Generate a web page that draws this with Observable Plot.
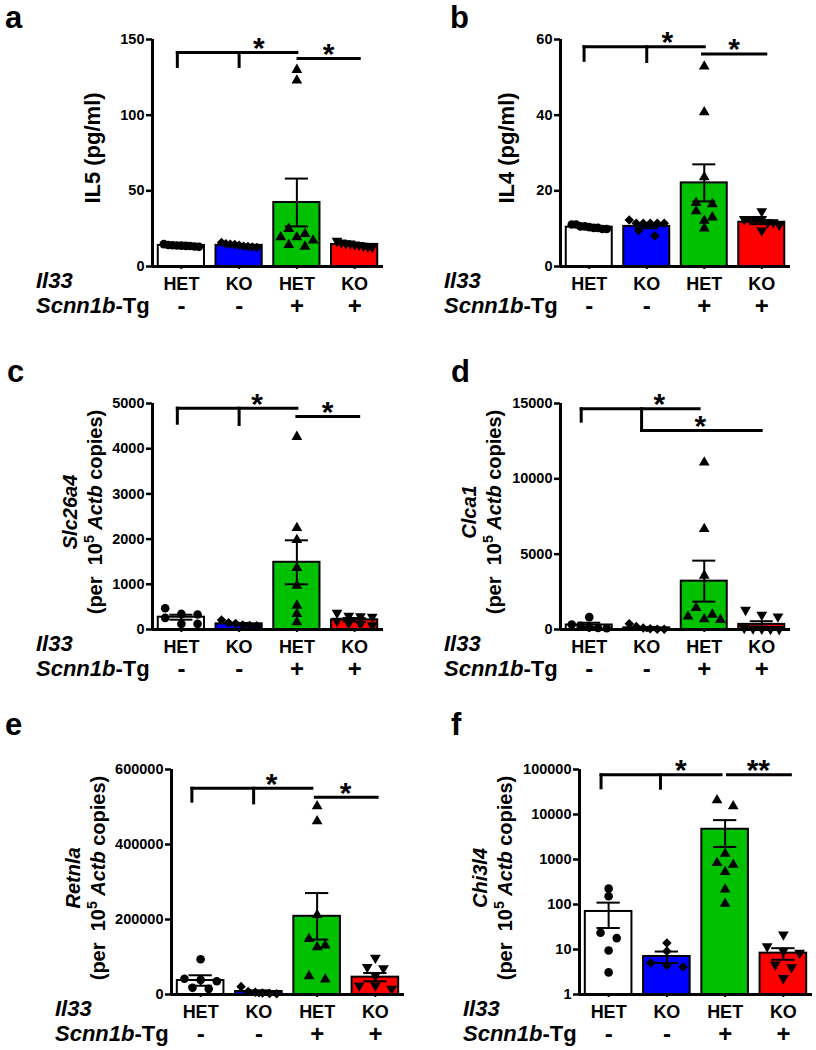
<!DOCTYPE html>
<html><head><meta charset="utf-8">
<script src="https://cdn.jsdelivr.net/npm/d3@7"></script>
<script src="https://cdn.jsdelivr.net/npm/@observablehq/plot@0.6"></script>
<style>
html,body{margin:0;padding:0;background:#fff;}
#fig{position:relative;width:816px;height:1050px;overflow:hidden;background:#fff;}
#fig svg{position:absolute;overflow:visible;}
</style></head><body><div id="fig"></div>
<script>
// ---------- shared categories ----------
const il33Labels = ["HET", "KO", "HET", "KO"];
const tgLabels = ["-", "-", "+", "+"];
const groupColors = ["#ffffff", "#0000ff", "#00c000", "#ff0000"];

// ---------- a: IL5 (pg/ml) ----------
const il5Het   = [13.5, 13.8, 14.0, 13.6, 14.2, 14.8, 13.9, 13.2, 13.0];
const il5Ko    = [12.6, 13.4, 14.1, 15.0, 15.8, 14.6, 13.2, 14.7, 12.9];
const il5HetTg = [130, 123, 24.9, 21.6, 19.4, 19.4, 17.2, 14.3, 13.2];
const il5KoTg  = [14.2, 15.1, 15.8, 16.9, 14.5, 13.6, 15.3, 13.0, 12.8];
const il5Means = [13.9, 14.0, 42.3, 14.6];
const il5Sems  = [0.3, 0.4, 15.8, 0.5];
const il5Ticks = [0, 50, 100, 150];
const il5Segs  = [[-0.07,141.4,2.0,141.4],[-0.07,141.4,-0.07,132.2],[1.0,141.4,1.0,132.2],[2.02,137.4,3.08,137.4]];
const il5Stars = [[1.34,141.4,"*"],[2.55,137.4,"*"]];

// ---------- b: IL4 (pg/ml) ----------
const il4Het   = [10.6, 10.2, 9.9, 10.4, 11.1, 11.1, 10.6, 10.2, 9.9];
const il4Ko    = [11.4, 11.4, 11.4, 11.4, 11.4, 12.3, 9.5, 8.1];
const il4HetTg = [52.9, 40.8, 23.6, 16.8, 16.5, 14.6, 13.0, 12.1, 10.1];
const il4KoTg  = [14.6, 12.5, 12.5, 12.5, 12.5, 11.7, 11.7, 11.0, 9.5];
const il4Means = [10.4, 10.6, 22.1, 11.7];
const il4Sems  = [0.2, 0.5, 4.9, 0.5];
const il4Ticks = [0, 20, 40, 60];
const il4Segs  = [[-0.09,58.1,2.0,58.1],[-0.09,58.1,-0.09,54.5],[1.0,58.1,1.0,54.2],[1.97,56.2,3.07,56.2]];
const il4Stars = [[1.36,58.1,"*"],[2.52,56.2,"*"]];

// ---------- c: Slc26a4 ----------
const slcHet   = [471, 346, 331, 258, 125, 125];
const slcKo    = [210, 150, 130, 100, 90, 80];
const slcHetTg = [4264, 2246, 1980, 1362, 972, 530, 346, 162];
const slcKoTg  = [370, 300, 290, 280, 190, 140, 90, 120];
const slcMeans = [272, 125, 1487, 214];
const slcSems  = [55, 20, 486, 40];
const slcTicks = [0, 1000, 2000, 3000, 4000, 5000];
const slcSegs  = [[-0.07,4896,2.0,4896],[-0.07,4896,-0.07,4564],[1.0,4896,1.0,4535],[2.0,4712,3.07,4712]];
const slcStars = [[1.31,4896,"*"],[2.53,4712,"*"]];

// ---------- d: Clca1 ----------
const clcHet   = [820, 330, 250, 150, 100, 80];
const clcKo    = [380, 200, 100, 50, 20, 10];
const clcHetTg = [11089, 6671, 3579, 1436, 994, 862, 685, 641];
const clcKoTg  = [1300, 970, 860, 100, 60, 40, 30, 20];
const clcMeans = [300, 110, 3210, 340];
const clcSems  = [150, 60, 1360, 210];
const clcTicks = [0, 5000, 10000, 15000];
const clcSegs  = [[-0.14,14646,1.91,14646],[-0.14,14646,-0.14,13827],[0.91,14646,0.91,13208],[0.91,13208,2.99,13208]];
const clcStars = [[1.22,14646,"*"],[1.93,13208,"*"]];

// ---------- e: Retnla ----------
const retHet   = [94000, 42000, 39000, 35500, 17800, 15100];
const retKo    = [21000, 8000, 6000, 4000, 3000, 2000];
const retHetTg = [502000, 462000, 212000, 148000, 131000, 126000, 49000, 40000];
const retKoTg  = [98000, 73000, 70000, 50700, 24000, 24000, 15100];
const retMeans = [37300, 8000, 208500, 46200];
const retSems  = [14000, 3000, 62000, 11000];
const retTicks = [0, 200000, 400000, 600000];
const retSegs  = [[-0.15,550000,1.91,550000],[-0.15,550000,-0.15,515500],[0.91,550000,0.91,511000],[1.97,526000,3.03,526000]];
const retStars = [[1.22,550000,"*"],[2.49,526000,"*"]];

// ---------- f: Chi3l4 (log) ----------
const chiHet   = [225, 152, 23.6, 17.9, 9.5, 3.1];
const chiKo    = [13.9, 9.2, 5.0, 4.4, 4.1];
const chiHetTg = [20800, 15300, 1350, 840, 770, 530, 217, 104];
const chiKoTg  = [21.5, 11.7, 9.2, 8.4, 4.6, 4.0, 2.3];
const chiMeans = [70, 7.0, 4700, 8.3];
const chiSems  = [40, 2.0, 2800, 2.4];
const chiTicks = [1, 10, 100, 1000, 10000, 100000];
const chiSegs  = [[-0.13,76250,1.93,76250],[-0.13,76250,-0.13,39200],[0.89,76250,0.89,38430],[2.04,76250,3.12,76250]];
const chiStars = [[1.24,76250,"*"],[2.57,76250,"**"]];

// ---------- drawing ----------
const FONT = "'Liberation Sans', Arial, Helvetica, sans-serif";
const invTriangle = {
  draw(context, size) {
    const y = -Math.sqrt(size / (Math.sqrt(3) * 3));
    context.moveTo(0, -y * 2);
    context.lineTo(-Math.sqrt(3) * y, y);
    context.lineTo(Math.sqrt(3) * y, y);
    context.closePath();
  }
};
const groupSymbols = ["circle", "diamond2", "triangle", invTriangle];
const groupR = [4.3, 4.3, 4.0, 4.0];

function dodge(pys, diam, maxHalf) {
  const order = pys.map((p, i) => i).sort((a, b) => pys[a] - pys[b]);
  const rows = [];
  let cur = null;
  for (const i of order) {
    if (cur && pys[i] - pys[cur[0]] < diam * 0.8) cur.push(i);
    else { cur = [i]; rows.push(cur); }
  }
  const off = new Array(pys.length).fill(0);
  for (const r of rows) {
    const n = r.length;
    if (n < 2) continue;
    const sp = Math.min(diam * 1.8, (2 * maxHalf) / (n - 1));
    r.forEach((i, k) => off[i] = (k - (n - 1) / 2) * sp);
  }
  return off;
}

const W = 408;
const panels = [
  {letter:"a", left:0, top:0, height:330, mt:39, mb:64, ml:152, mr:25, type:"linear", domain:[0,150], ticks:il5Ticks,
   groups:[il5Het, il5Ko, il5HetTg, il5KoTg], means:il5Means, sems:il5Sems, segs:il5Segs, stars:il5Stars,
   label:{single:"IL5 (pg/ml)", cx:92, cy:148}, lp:[5,28]},
  {letter:"b", left:408, top:0, height:330, mt:39, mb:64, ml:152, mr:26, type:"linear", domain:[0,60], ticks:il4Ticks,
   groups:[il4Het, il4Ko, il4HetTg, il4KoTg], means:il4Means, sems:il4Sems, segs:il4Segs, stars:il4Stars,
   label:{single:"IL4 (pg/ml)", cx:98, cy:148}, lp:[42,28]},
  {letter:"c", left:0, top:330, height:350, mt:73, mb:51, ml:152, mr:25, type:"linear", domain:[0,5000], ticks:slcTicks,
   groups:[slcHet, slcKo, slcHetTg, slcKoTg], means:slcMeans, sems:slcSems, segs:slcSegs, stars:slcStars,
   label:{gene:"Slc26a4", cx:70, cy:182}, lp:[7,52]},
  {letter:"d", left:408, top:330, height:350, mt:73, mb:51, ml:152, mr:26, type:"linear", domain:[0,15000], ticks:clcTicks,
   groups:[clcHet, clcKo, clcHetTg, clcKoTg], means:clcMeans, sems:clcSems, segs:clcSegs, stars:clcStars,
   label:{gene:"Clca1", cx:61, cy:182}, lp:[43,52]},
  {letter:"e", left:0, top:680, height:370, mt:89, mb:56, ml:171, mr:4, type:"linear", domain:[0,600000], ticks:retTicks,
   groups:[retHet, retKo, retHetTg, retKoTg], means:retMeans, sems:retSems, segs:retSegs, stars:retStars,
   label:{gene:"Retnla", cx:73, cy:198}, lp:[5,55]},
  {letter:"f", left:408, top:680, height:370, mt:89, mb:56, ml:171, mr:4, type:"log", domain:[1,100000], ticks:chiTicks,
   groups:[chiHet, chiKo, chiHetTg, chiKoTg], means:chiMeans, sems:chiSems, segs:chiSegs, stars:chiStars,
   label:{gene:"Chi3l4", cx:72, cy:198}, lp:[43,55]}
];

const fig = document.getElementById("fig");

for (const p of panels) {
  const innerW = W - p.ml - p.mr;
  const step = innerW / 4;
  const yPx = (p.type === "log" ? d3.scaleLog() : d3.scaleLinear())
    .domain(p.domain).range([p.height - p.mb, p.mt]);
  const base = p.domain[0];
  const diam = 9;
  const barHalf = 0.4 * step;

  const bars = p.means.map((m, g) => ({g, mean: m, lo: m - p.sems[g], hi: m + p.sems[g]}));
  const pts = p.groups.map((vals, g) => {
    const off = dodge(vals.map(v => yPx(v)), diam, barHalf - diam / 2 - 1);
    return vals.map((v, i) => ({g, x: g + off[i] / step, y: v}));
  });

  const marks = [
    Plot.rect(bars, {x1: d => d.g - 0.4, x2: d => d.g + 0.4, y1: () => base, y2: "mean",
      fill: d => groupColors[d.g], stroke: "black", strokeWidth: 2}),
    Plot.ruleX(bars, {x: "g", y1: "lo", y2: "hi", stroke: "black", strokeWidth: 2}),
    Plot.ruleY(bars, {x1: d => d.g - 0.2, x2: d => d.g + 0.2, y: "hi", stroke: "black", strokeWidth: 2}),
    Plot.ruleY(bars, {x1: d => d.g - 0.2, x2: d => d.g + 0.2, y: "lo", stroke: "black", strokeWidth: 2}),
    ...pts.map((arr, g) => Plot.dot(arr, {x: "x", y: "y", symbol: groupSymbols[g], r: groupR[g], fill: "black", stroke: "none"})),
    Plot.ruleX([-0.5], {stroke: "black", strokeWidth: 3}),
    Plot.ruleY([base], {stroke: "black", strokeWidth: 3}),
    Plot.axisY({ticks: p.ticks, tickFormat: d => String(d), tickSize: 6, tickPadding: 2, strokeWidth: 2.5}),
    Plot.axisX({ticks: [0, 1, 2, 3], tickFormat: () => "", tickSize: 3, strokeWidth: 2}),
    Plot.text(il33Labels, {x: (d, i) => i, text: d => d, frameAnchor: "bottom", lineAnchor: "middle", dy: 18, fontSize: 18, fontWeight: "bold"}),
    Plot.text(tgLabels, {x: (d, i) => i, text: d => d, frameAnchor: "bottom", lineAnchor: "middle", dy: 40, fontSize: 24, fontWeight: "bold"}),
    Plot.link(p.segs, {x1: d => d[0], y1: d => d[1], x2: d => d[2], y2: d => d[3], stroke: "black", strokeWidth: 3, strokeLinecap: "square"}),
    Plot.text(p.stars, {x: d => d[0], y: d => d[1], text: d => d[2], fontSize: 30, fontWeight: "bold", lineAnchor: "middle", dy: -4})
  ];

  const svg = Plot.plot({
    width: W, height: p.height,
    marginTop: p.mt, marginBottom: p.mb, marginLeft: p.ml, marginRight: p.mr,
    x: {type: "linear", domain: [-0.5, 3.5], label: null},
    y: {type: p.type, domain: p.domain, label: null},
    style: {fontFamily: FONT, fontWeight: "bold", fontSize: "14px", color: "black", background: "transparent", overflow: "visible"},
    marks
  });
  svg.style.left = p.left + "px";
  svg.style.top = p.top + "px";
  fig.appendChild(svg);

  const s = d3.select(svg);
  s.selectAll('g[aria-label="y-axis tick label"]').attr("font-size", 14.5).attr("font-weight", "bold");

  const addText = (x, y, size) => s.append("text").attr("x", x).attr("y", y)
    .attr("text-anchor", "start").attr("font-family", FONT).attr("font-weight", "bold")
    .attr("font-size", size).attr("fill", "black").style("font-size", size + "px");

  // panel letter
  addText(p.lp[0], p.lp[1], 31).text(p.letter);

  // row labels
  const axisY = p.height - p.mb;
  const rx = p.ml - 116;
  addText(rx, axisY + 22, 22).attr("font-style", "italic").text("Il33");
  const t2 = addText(rx, axisY + 47, 22);
  t2.append("tspan").attr("font-style", "italic").text("Scnn1b");
  t2.append("tspan").text("-Tg");

  // y label
  const L = p.label;
  if (L.single) {
    const fs = 22;
    s.append("text").attr("transform", `translate(${L.cx},${L.cy}) rotate(-90)`).attr("text-anchor", "middle")
      .attr("font-family", FONT).attr("font-weight", "bold").attr("font-size", fs).style("font-size", fs + "px").attr("fill", "black")
      .attr("dy", 0.36 * fs).text(L.single);
  } else {
    const fs = 20, gap = 25;
    const t = s.append("text").attr("transform", `translate(${L.cx},${L.cy}) rotate(-90)`).attr("text-anchor", "middle")
      .attr("font-family", FONT).attr("font-weight", "bold").attr("font-size", fs).style("font-size", fs + "px").attr("fill", "black");
    t.append("tspan").attr("x", 0).attr("dy", 0.36 * fs).attr("font-style", "italic").text(L.gene);
    const l2 = t.append("tspan").attr("x", 0).attr("dy", gap);
    l2.append("tspan").text("(per\u00a0 10");
    l2.append("tspan").style("font-size", "14px").attr("dy", -8).text("5");
    l2.append("tspan").attr("dy", 8).text("\u00a0");
    l2.append("tspan").attr("font-style", "italic").text("Actb");
    l2.append("tspan").text(" copies)");
  }
}
</script>
</body></html>
